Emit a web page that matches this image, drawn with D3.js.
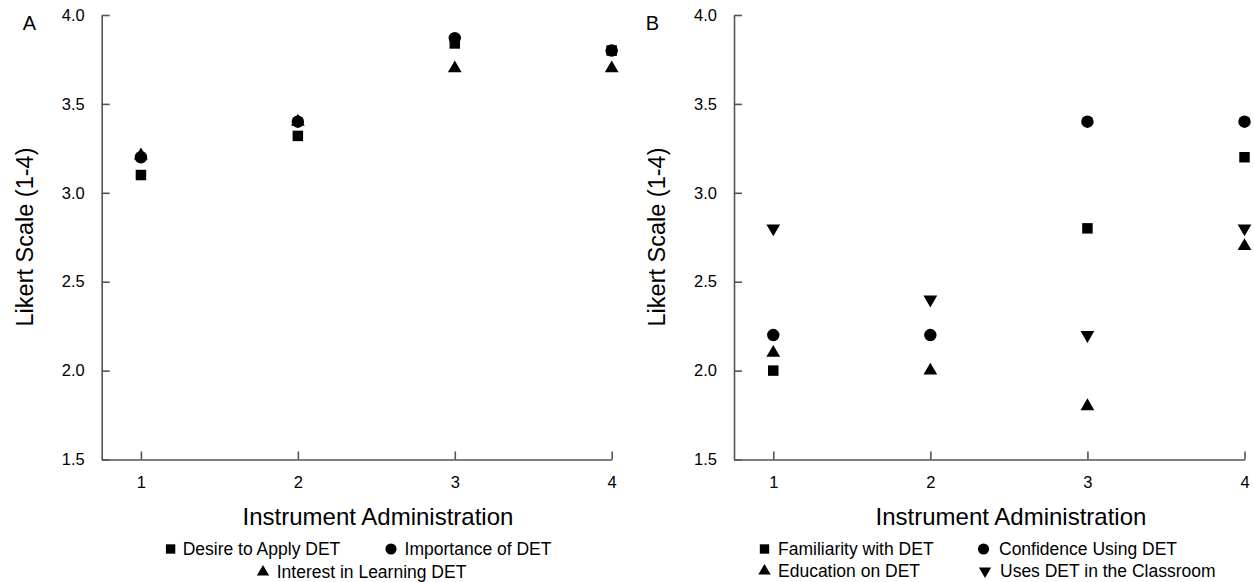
<!DOCTYPE html>
<html><head><meta charset="utf-8">
<script src="https://cdn.jsdelivr.net/npm/d3@7"></script>
<style>
body{margin:0;background:#fff}
text{font-family:"Liberation Sans",Arial,sans-serif;fill:#000}
</style>
</head><body>
<svg id="chart" width="1254" height="582"></svg>
<script>
// ---- data ----
const administrations = [1, 2, 3, 4];
const yTickValues = [1.5, 2.0, 2.5, 3.0, 3.5, 4.0];
const panelLabels = ["A", "B"];
const xTitle = "Instrument Administration";
const yTitle = "Likert Scale (1-4)";

const seriesNamesA = ["Desire to Apply DET", "Importance of DET", "Interest in Learning DET"];
const desireA     = [3.10, 3.32, 3.84, 3.80];
const importanceA = [3.20, 3.40, 3.87, 3.80];
const interestA   = [3.21, 3.40, 3.70, 3.70];

const seriesNamesB = ["Familiarity with DET", "Confidence Using DET", "Education on DET", "Uses DET in the Classroom"];
const familiarityB = [2.0, null, 2.8, 3.2];
const confidenceB  = [2.2, 2.2, 3.4, 3.4];
const educationB   = [2.1, 2.0, 1.8, 2.7];
const usesB        = [2.8, 2.4, 2.2, 2.8];

// ---- drawing ----
const svg = d3.select("#chart");
const FONT = '"Liberation Sans",Arial,sans-serif';
const axisColor = "#555";

const shapes = {
  square:  {type: d3.symbolSquare,   size: 110, rot: 0},
  circle:  {type: d3.symbolCircle,   size: 122, rot: 0},
  up:      {type: d3.symbolTriangle, size: 82,  rot: 0},
  down:    {type: d3.symbolTriangle, size: 82,  rot: 180}
};

function drawPanel(cfg) {
  const top = 15, bottom = 459.5;
  const x = d3.scaleLinear().domain([0.75, 4]).range([cfg.left, cfg.right]);
  const y = d3.scaleLinear().domain([1.5, 4]).range([bottom, top]);
  const g = svg.append("g");

  const yAxis = d3.axisLeft(y).tickValues(yTickValues).tickFormat(d3.format(".1f"))
    .tickSizeInner(-8).tickSizeOuter(0).tickPadding(17);
  const ya = g.append("g").attr("transform", `translate(${cfg.left},0)`).call(yAxis);
  const xAxis = d3.axisBottom(x).tickValues(administrations).tickFormat(d3.format("d"))
    .tickSizeInner(-8).tickSizeOuter(0).tickPadding(17);
  const xa = g.append("g").attr("transform", `translate(0,${bottom})`).call(xAxis);
  [ya, xa].forEach(a => {
    a.selectAll("path.domain").attr("stroke", axisColor).attr("stroke-width", 1.6);
    a.selectAll(".tick line").attr("stroke", axisColor).attr("stroke-width", 1.6);
    a.selectAll(".tick text").attr("font-family", FONT).attr("font-size", 16.5).attr("fill", "#111");
  });

  // titles
  g.append("text").attr("x", cfg.titleX).attr("y", 525).attr("text-anchor", "middle")
    .attr("font-size", 24).text(xTitle);
  g.append("text").attr("transform", `translate(${cfg.left - 69},237) rotate(-90)`)
    .attr("text-anchor", "middle").attr("font-size", 23.5).text(yTitle);
  g.append("text").attr("x", cfg.letterX).attr("y", 30).attr("text-anchor", "middle")
    .attr("font-size", 20).text(cfg.letter);

  // points
  cfg.series.forEach(s => {
    const sh = shapes[s.shape];
    const sym = d3.symbol().type(sh.type).size(sh.size);
    g.append("g").selectAll("path")
      .data(administrations.map((a, i) => ({a, v: s.values[i]})).filter(d => d.v != null))
      .join("path")
      .attr("d", sym)
      .attr("transform", d => `translate(${x(d.a)},${y(d.v)}) rotate(${sh.rot})`)
      .attr("fill", "#000");
  });

  // legend
  cfg.legend.forEach(l => {
    const sh = shapes[l.shape];
    const sym = d3.symbol().type(sh.type).size(sh.size * 0.8);
    g.append("path").attr("d", sym)
      .attr("transform", `translate(${l.mx},${l.y - 6}) rotate(${sh.rot})`).attr("fill", "#000");
    g.append("text").attr("x", l.tx).attr("y", l.y).attr("font-size", 17.5).text(l.name);
  });
}

drawPanel({
  letter: panelLabels[0], letterX: 29.5, left: 101.7, right: 611.7, titleX: 378,
  series: [
    {values: desireA, shape: "square"},
    {values: importanceA, shape: "circle"},
    {values: interestA, shape: "up"}
  ],
  legend: [
    {name: seriesNamesA[0], shape: "square", mx: 170.6, tx: 182.7, y: 555},
    {name: seriesNamesA[1], shape: "circle", mx: 391, tx: 404.6, y: 555},
    {name: seriesNamesA[2], shape: "up", mx: 263, tx: 276.7, y: 578}
  ]
});

drawPanel({
  letter: panelLabels[1], letterX: 652.5, left: 734, right: 1244.5, titleX: 1011,
  series: [
    {values: familiarityB, shape: "square"},
    {values: confidenceB, shape: "circle"},
    {values: educationB, shape: "up"},
    {values: usesB, shape: "down"}
  ],
  legend: [
    {name: seriesNamesB[0], shape: "square", mx: 764.5, tx: 778, y: 555},
    {name: seriesNamesB[1], shape: "circle", mx: 983.5, tx: 999, y: 555},
    {name: seriesNamesB[2], shape: "up", mx: 764.5, tx: 778, y: 577},
    {name: seriesNamesB[3], shape: "down", mx: 985, tx: 1000, y: 577}
  ]
});
</script>
</body></html>
